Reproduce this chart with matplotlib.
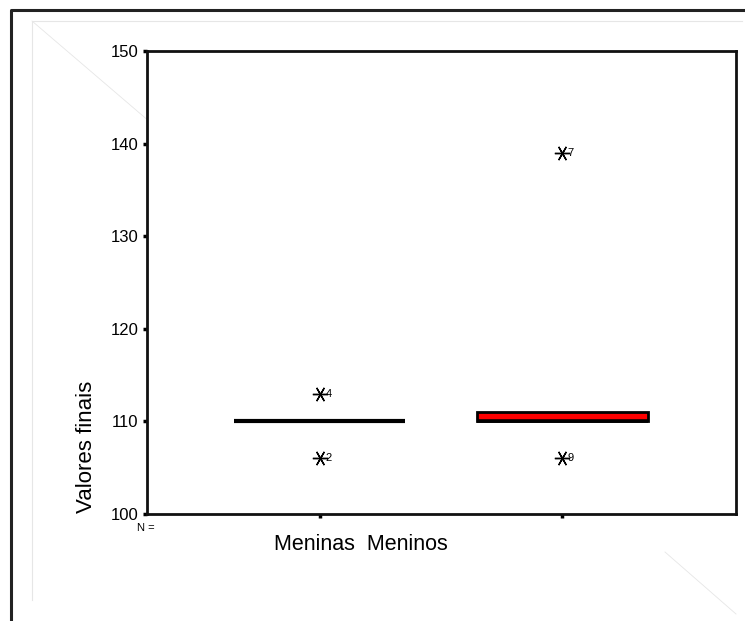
import matplotlib
matplotlib.use("Agg")
import matplotlib.pyplot as plt
from matplotlib.lines import Line2D

plt.rcParams['font.family'] = ['Liberation Sans', 'DejaVu Sans']

groups = ["Meninas", "Meninos"]
q1 = [110, 110]
median = [110, 110]
q3 = [110, 111]
whislo = [110, 110]
whishi = [110, 111]
outlier_values = [[113, 106], [139, 106]]
outlier_ids = [["4", "2"], ["7", "9"]]
yticks = [100, 110, 120, 130, 140, 150]

W, H = 745, 621
fig = plt.figure(figsize=(W / 100, H / 100), dpi=100)

def fx(x):
    return x / W

def fy(y):
    return 1 - y / H

# page decorations
fig.add_artist(Line2D([fx(11), fx(11), fx(745)], [fy(621), fy(10), fy(10)],
                      color='#222222', lw=2.2, transform=fig.transFigure))
fig.add_artist(Line2D([fx(32), fx(32), fx(742)], [fy(600), fy(21), fy(21)],
                      color='#e6e6e6', lw=0.8, transform=fig.transFigure))
fig.add_artist(Line2D([fx(32), fx(150)], [fy(21), fy(122)],
                      color='#e6e6e6', lw=0.6, transform=fig.transFigure))
fig.add_artist(Line2D([fx(665), fx(736)], [fy(552), fy(614)],
                      color='#e6e6e6', lw=0.6, transform=fig.transFigure))

ax = fig.add_axes([fx(147), fy(514), fx(736) - fx(147), fy(51) - fy(514)])
ax.set_zorder(2)

stats = []
for i, g in enumerate(groups):
    stats.append(dict(label=g, q1=q1[i], med=median[i], q3=q3[i],
                      whislo=whislo[i], whishi=whishi[i], fliers=[]))

colors = ['white', '#ff0000']
bp = ax.bxp(stats, positions=[1, 2], widths=0.707, patch_artist=True,
            showfliers=False, showcaps=False,
            boxprops=dict(edgecolor='black', linewidth=2.0),
            medianprops=dict(color='black', linewidth=2.6),
            whiskerprops=dict(color='black', linewidth=1.5))
for patch, c in zip(bp['boxes'], colors):
    patch.set_facecolor(c)
bp['boxes'][0].set_linewidth(3.0)

for i, (vals, ids) in enumerate(zip(outlier_values, outlier_ids)):
    pos = i + 1
    ax.plot([pos] * len(vals), vals, linestyle='none', marker=(6, 2, 90),
            markersize=11, markeredgewidth=1.0, color='black')
    for v, t in zip(vals, ids):
        ax.annotate(t, (pos, v), xytext=(4, 0), textcoords='offset points',
                    ha='left', va='center', fontsize=8)

ax.set_xlim(0.288, 2.716)
ax.set_ylim(100, 150)
ax.set_yticks(yticks)
ax.set_yticklabels([str(t) for t in yticks], fontsize=12)
ax.set_xticks([1, 2])
ax.set_xticklabels(['', ''])
ax.tick_params(axis='both', direction='out', length=3, width=2.5, pad=3,
               color='black')
for s in ax.spines.values():
    s.set_linewidth(2.0)
    s.set_color('#111111')

ax.set_ylabel("Valores finais", fontsize=16)
ax.yaxis.set_label_coords((97 - 147) / (736 - 147), (514 - 447) / (514 - 51))

fig.text(fx(146), fy(528), "N =", fontsize=8, ha='center', va='center')
fig.text(fx(361), fy(545), "Meninas  Meninos", fontsize=15.5, ha='center',
         va='center')

fig.savefig("out.png", dpi=100, facecolor='white')
